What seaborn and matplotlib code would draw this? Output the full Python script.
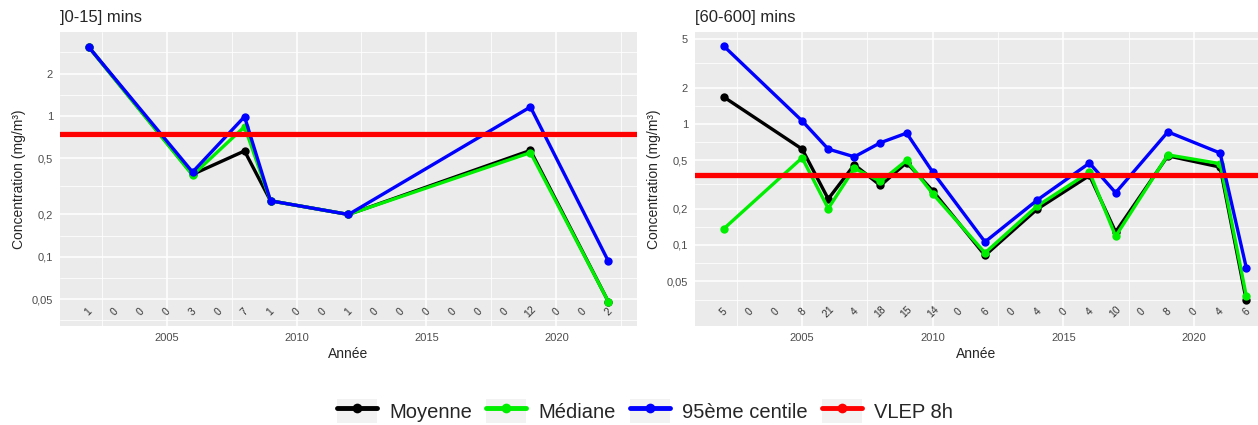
"""Concentrations par année : moyenne, médiane et 95ème centile, deux durées de prélèvement."""

import matplotlib
matplotlib.use("Agg")
import matplotlib.pyplot as plt
import numpy as np
import pandas as pd
import seaborn as sns
from matplotlib.legend_handler import HandlerTuple
from matplotlib.lines import Line2D
from matplotlib.patches import Patch
from matplotlib.ticker import FixedLocator, FuncFormatter


COUNT_YEARS = list(range(2002, 2023))

# ]0-15] mins
SHORT_YEARS = [2002, 2006, 2008, 2009, 2012, 2019, 2022]
SHORT_MEAN = [3.1, 0.385, 0.565, 0.25, 0.2, 0.57, 0.048]
SHORT_MEDIAN = [3.1, 0.38, 0.84, 0.25, 0.2, 0.55, 0.048]
SHORT_P95 = [3.1, 0.40, 0.99, 0.25, 0.2, 1.16, 0.093]
SHORT_COUNTS = [1, 0, 0, 0, 3, 0, 7, 1, 0, 0, 1, 0, 0, 0, 0, 0, 0, 12, 0, 0, 2]
SHORT_VLEP = 0.75

# [60-600] mins
LONG_YEARS = [2002, 2005, 2006, 2007, 2008, 2009, 2010, 2012, 2014, 2016, 2017, 2019, 2021, 2022]
LONG_MEAN = [1.67, 0.62, 0.24, 0.46, 0.31, 0.48, 0.28, 0.082, 0.198, 0.375, 0.128, 0.545, 0.44, 0.035]
LONG_MEDIAN = [0.136, 0.525, 0.20, 0.43, 0.335, 0.50, 0.265, 0.086, 0.21, 0.40, 0.118, 0.555, 0.47, 0.038]
LONG_P95 = [4.4, 1.06, 0.62, 0.535, 0.70, 0.84, 0.40, 0.106, 0.235, 0.475, 0.27, 0.86, 0.575, 0.065]
LONG_COUNTS = [5, 0, 0, 8, 21, 4, 18, 15, 14, 0, 6, 0, 4, 0, 4, 10, 0, 8, 0, 4, 6]
LONG_VLEP = 0.375

SERIES = ["Moyenne", "Médiane", "95ème centile"]
COLORS = {"Moyenne": "#000000", "Médiane": "#00EE00", "95ème centile": "#0000FF", "VLEP 8h": "#FF0000"}


def to_long(years, mean, median, p95):
    frames = []
    for name, values in zip(SERIES, [mean, median, p95]):
        frames.append(pd.DataFrame({"Année": years, "Concentration": values, "Statistique": name}))
    return pd.concat(frames, ignore_index=True)


def comma_fmt(v, _pos):
    return f"{v:g}".replace(".", ",")


def draw_panel(ax, df, counts, vlep, title, y_breaks, label_y, ylim, xlim):
    sns.lineplot(data=df, x="Année", y="Concentration", hue="Statistique", hue_order=SERIES,
                 palette=COLORS, marker="o", markersize=6, markeredgewidth=0, linewidth=2.4,
                 legend=False, ax=ax, zorder=3)
    ax.axhline(vlep, color=COLORS["VLEP 8h"], linewidth=3.8, zorder=4)
    ax.set_yscale("log")
    for year, n in zip(COUNT_YEARS, counts):
        ax.text(year, label_y, str(n), rotation=45, ha="center", va="center",
                fontsize=7.5, color="#333333", zorder=5)

    ax.set_xlim(*xlim)
    ax.set_ylim(*ylim)
    ax.xaxis.set_major_locator(FixedLocator([2005, 2010, 2015, 2020]))
    ax.xaxis.set_minor_locator(FixedLocator([2002.5, 2007.5, 2012.5, 2017.5, 2022.5]))
    logs = np.log10(y_breaks)
    step_lo = logs[1] - logs[0]
    step_hi = logs[-1] - logs[-2]
    minors = [logs[0] - step_lo / 2] + list((logs[:-1] + logs[1:]) / 2) + [logs[-1] + step_hi / 2]
    ax.yaxis.set_major_locator(FixedLocator(y_breaks))
    ax.yaxis.set_minor_locator(FixedLocator(list(10 ** np.array(minors))))
    ax.yaxis.set_major_formatter(FuncFormatter(comma_fmt))
    ax.yaxis.set_minor_formatter(FuncFormatter(lambda v, p: ""))

    ax.grid(which="major", color="white", linewidth=1.1)
    ax.grid(which="minor", color="white", linewidth=0.55)
    ax.tick_params(which="major", length=3, width=0.8, color="#333333", labelsize=8,
                   labelcolor="#4D4D4D", pad=2)
    ax.tick_params(which="minor", length=0)
    for spine in ax.spines.values():
        spine.set_visible(False)
    ax.set_xlabel("Année", fontsize=10, labelpad=3)
    ax.set_ylabel("Concentration (mg/m³)", fontsize=10, labelpad=4)
    ax.set_title(title, loc="left", fontsize=12, pad=7)


def main():
    sns.set_theme(style="darkgrid")
    plt.rcParams["font.family"] = ["Liberation Sans", "DejaVu Sans"]
    plt.rcParams["axes.facecolor"] = "#EBEBEB"
    plt.rcParams["axes.axisbelow"] = True

    fig = plt.figure(figsize=(12.58, 4.25), dpi=100)
    ax_short = fig.add_axes([60 / 1258, 1 - 326 / 425, 577 / 1258, 294 / 425])
    ax_long = fig.add_axes([695 / 1258, 1 - 326 / 425, 563 / 1258, 294 / 425])

    short_df = to_long(SHORT_YEARS, SHORT_MEAN, SHORT_MEDIAN, SHORT_P95)
    long_df = to_long(LONG_YEARS, LONG_MEAN, LONG_MEDIAN, LONG_P95)

    draw_panel(ax_short, short_df, SHORT_COUNTS, SHORT_VLEP, "]0-15] mins",
               [0.05, 0.1, 0.2, 0.5, 1, 2], 0.0405, (0.0323, 3.95), (2000.9, 2023.1))
    draw_panel(ax_long, long_df, LONG_COUNTS, LONG_VLEP, "[60-600] mins",
               [0.05, 0.1, 0.2, 0.5, 1, 2, 5], 0.028, (0.0214, 5.75), (2000.9, 2022.45))

    handles = []
    for k in COLORS:
        key_bg = Patch(facecolor="#F2F2F2", edgecolor="none")
        key_line = Line2D([0], [0], color=COLORS[k], linewidth=3.5, marker="o", markersize=7,
                          markeredgewidth=0)
        handles.append((key_bg, key_line))
    fig.legend(handles, list(COLORS), loc="center", bbox_to_anchor=(645 / 1258, 1 - 411 / 425),
               ncol=4, frameon=False, fontsize=14.5, handlelength=2.0, handleheight=1.5,
               handletextpad=0.6, columnspacing=0.7,
               handler_map={tuple: HandlerTuple(ndivide=1, pad=0)})

    fig.savefig("out.png", dpi=100)
    plt.close(fig)


if __name__ == "__main__":
    main()
